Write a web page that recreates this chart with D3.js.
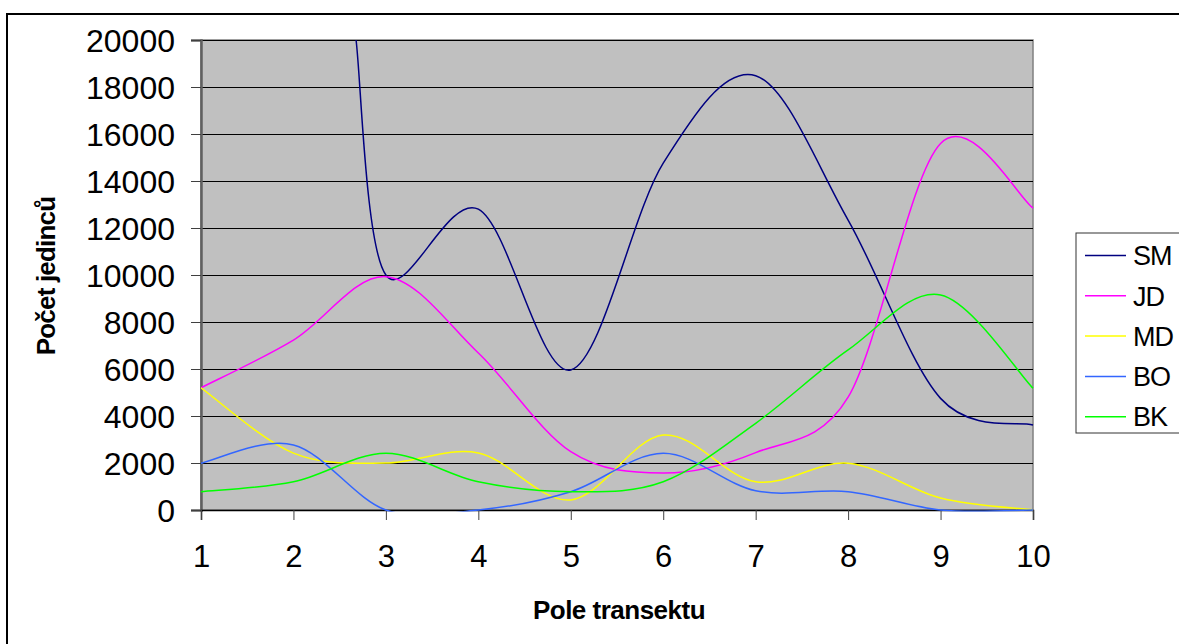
<!DOCTYPE html>
<html>
<head>
<meta charset="utf-8">
<script src="https://cdn.jsdelivr.net/npm/d3@7"></script>
<style>
    body { margin: 0; background: #fff; }
    text { font-family: "Liberation Sans", Arial, sans-serif; fill: #000; }
</style>
</head>
<body>
<div class="chart"></div>
<script>
// pole transektu 1..10
var categories = [1, 2, 3, 4, 5, 6, 7, 8, 9, 10];
var seriesNames = ["SM", "JD", "MD", "BO", "BK"];
var seriesColors = ["#000080", "#FF00FF", "#FFFF00", "#3366FF", "#00FF00"];

// values (SM goes above the axis at 1 and 2)
var SM = [45000, 41000, 10000, 12800, 5960, 14760, 18480, 12340, 4750, 3620];
var JD = [5200, 7230, 9930, 6680, 2480, 1570, 2440, 4800, 15600, 12850];
var MD = [5200, 2420, 2000, 2430, 430, 3190, 1200, 1990, 510, 0];
var BO = [1990, 2770, 0, 0, 780, 2410, 820, 780, 0, 0];
var BK = [780, 1200, 2410, 1200, 780, 1200, 3690, 6810, 9150, 5180];

var yTicks = [0, 2000, 4000, 6000, 8000, 10000, 12000, 14000, 16000, 18000, 20000];
var xTicks = categories;

var width = 1179,
    height = 644,
    plotLeft = 201,
    plotRight = 1033,
    plotTop = 40,
    plotBottom = 510;

var x = d3.scaleLinear().domain([1, 10]).range([plotLeft, plotRight]);
var y = d3.scaleLinear().domain([0, 20000]).range([plotBottom, plotTop]);

// spreadsheet style smoothing: the polyline is cut at the top of the plot first,
// then each visible run gets bezier control points (1/6 of the neighbour chord,
// never longer than half of the segment)
function ExcelSmooth(context) { this._context = context; }
ExcelSmooth.prototype = {
    areaStart: function() {},
    areaEnd: function() {},
    lineStart: function() { this._pts = []; },
    point: function(px, py) { this._pts.push([+px, +py]); },
    lineEnd: function() {
        var ctx = this._context;
        clip_runs(this._pts, plotTop).forEach(function(run) { draw_smooth(ctx, run); });
    }
};
function curveExcel(context) { return new ExcelSmooth(context); }

function clip_runs(pts, top) {
    var runs = [], cur = null;
    for (var i = 0; i < pts.length; i++) {
        var b = pts[i], bIn = b[1] >= top;
        if (i === 0) {
            if (bIn) cur = [b];
            continue;
        }
        var a = pts[i - 1], aIn = a[1] >= top;
        if (aIn && bIn) {
            cur.push(b);
        } else if (aIn !== bIn) {
            var t = (top - a[1]) / (b[1] - a[1]);
            var c = [a[0] + t * (b[0] - a[0]), top];
            if (aIn) { cur.push(c); runs.push(cur); cur = null; }
            else { cur = [c, b]; }
        }
    }
    if (cur) runs.push(cur);
    return runs;
}

function dist(p, q) { return Math.sqrt((p[0] - q[0]) * (p[0] - q[0]) + (p[1] - q[1]) * (p[1] - q[1])); }

function draw_smooth(ctx, pts) {
    var n = pts.length;
    ctx.moveTo(pts[0][0], pts[0][1]);
    for (var i = 0; i < n - 1; i++) {
        var p1 = pts[i], p2 = pts[i + 1];
        var p0 = i > 0 ? pts[i - 1] : p1;
        var p3 = i < n - 2 ? pts[i + 2] : p2;
        var d12 = dist(p1, p2), d02 = dist(p0, p2), d13 = dist(p1, p3);
        var f = 1 / 6, g = 1 / 6;
        if (d02 / 6 >= d12 / 2 && d02 > 0) f = d12 / (2 * d02);
        if (d13 / 6 >= d12 / 2 && d13 > 0) g = d12 / (2 * d13);
        ctx.bezierCurveTo(
            p1[0] + f * (p2[0] - p0[0]), p1[1] + f * (p2[1] - p0[1]),
            p2[0] - g * (p3[0] - p1[0]), p2[1] - g * (p3[1] - p1[1]),
            p2[0], p2[1]);
    }
}

function build_svg(c) {
    return c.append("svg").attr("width", width).attr("height", height);
}

function build_frame(s) {
    // outer chart border, runs off the right and bottom
    s.append("rect")
        .attr("x", 7).attr("y", 14)
        .attr("width", width + 20).attr("height", height + 20)
        .attr("fill", "none").attr("stroke", "#000").attr("stroke-width", 2);

    s.append("rect")
        .attr("x", plotLeft).attr("y", plotTop)
        .attr("width", plotRight - plotLeft).attr("height", plotBottom - plotTop)
        .attr("fill", "#C0C0C0")
        .attr("stroke", "#808080").attr("stroke-width", 1.5);
}

function build_axes(s) {
    var grid = s.append("g").attr("class", "grid");
    grid.selectAll("line")
        .data(yTicks.slice(1))
        .enter().append("line")
        .attr("x1", plotLeft).attr("x2", plotRight)
        .attr("y1", function(d) { return Math.round(y(d)) + 0.5; })
        .attr("y2", function(d) { return Math.round(y(d)) + 0.5; })
        .attr("stroke", "#000").attr("stroke-width", 1);

    var yAxis = d3.axisLeft(y).tickValues(yTicks).tickSize(10).tickPadding(16)
        .tickFormat(function(d) { return d; });
    var gy = s.append("g")
        .attr("transform", "translate(" + plotLeft + ",0)")
        .call(yAxis);
    gy.select(".domain").attr("stroke", "#606060").attr("stroke-width", 2.5);
    gy.selectAll(".tick line").attr("stroke", "#404040");
    gy.selectAll(".tick text")
        .attr("font-size", 32).attr("dy", "0.36em")
        .style("font-family", "'Liberation Sans', Arial, sans-serif");

    var xAxis = d3.axisBottom(x).tickValues(xTicks).tickSize(10).tickPadding(25);
    var gx = s.append("g")
        .attr("transform", "translate(0," + plotBottom + ")")
        .call(xAxis);
    gx.select(".domain").attr("stroke", "#000").attr("stroke-width", 1.5);
    gx.selectAll(".tick line").attr("stroke", "#404040");
    gx.selectAll(".tick text")
        .attr("font-size", 31)
        .style("font-family", "'Liberation Sans', Arial, sans-serif");

    s.append("text")
        .attr("x", 619).attr("y", 619)
        .attr("text-anchor", "middle")
        .attr("font-size", 26).attr("font-weight", "bold")
        .attr("letter-spacing", -0.5)
        .text("Pole transektu");

    s.append("text")
        .attr("transform", "translate(55,276) rotate(-90)")
        .attr("text-anchor", "middle")
        .attr("font-size", 26).attr("font-weight", "bold")
        .attr("letter-spacing", -0.8)
        .text("Počet jedinců");
}

function build_lines(s) {
    s.append("clipPath").attr("id", "plotclip")
        .append("rect")
        .attr("x", plotLeft).attr("y", plotTop - 1)
        .attr("width", plotRight - plotLeft + 1)
        .attr("height", plotBottom - plotTop + 2.5);

    var series = [SM, JD, MD, BO, BK];
    var line = d3.line()
        .x(function(d, i) { return x(categories[i]); })
        .y(function(d) { return y(d); })
        .curve(curveExcel);

    s.append("g").attr("clip-path", "url(#plotclip)")
        .selectAll("path")
        .data(series)
        .enter().append("path")
        .attr("d", line)
        .attr("fill", "none")
        .attr("stroke", function(d, i) { return seriesColors[i]; })
        .attr("stroke-width", 1.5);
}

function build_legend(s) {
    var lg = s.append("g").attr("class", "legend");
    lg.append("rect")
        .attr("x", 1076).attr("y", 233)
        .attr("width", 140).attr("height", 200)
        .attr("fill", "#fff").attr("stroke", "#333").attr("stroke-width", 1);

    var item = lg.selectAll(".item")
        .data(seriesNames)
        .enter().append("g")
        .attr("class", "item")
        .attr("transform", function(d, i) { return "translate(1085," + (255.5 + i * 40.3) + ")"; });
    item.append("line")
        .attr("x1", 0).attr("x2", 41)
        .attr("stroke", function(d, i) { return seriesColors[i]; })
        .attr("stroke-width", 1.5);
    item.append("text")
        .attr("x", 48).attr("dy", "0.36em")
        .attr("font-size", 27).attr("letter-spacing", -1)
        .text(function(d) { return d; });
}

function main() {
    var container = d3.select(".chart");
    var svg = build_svg(container);
    build_frame(svg);
    build_axes(svg);
    build_lines(svg);
    build_legend(svg);
}

main();
</script>
</body>
</html>
